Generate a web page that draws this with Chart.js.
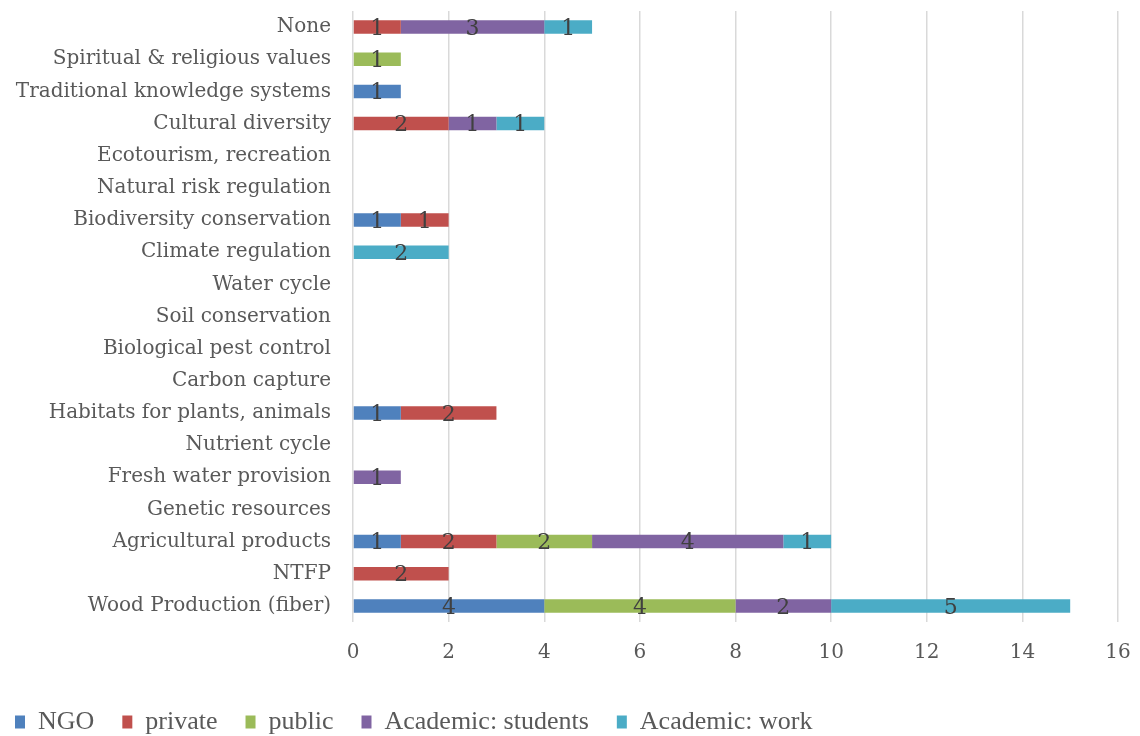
<!DOCTYPE html>
<html>
<head>
<meta charset="utf-8">
<script src="https://cdn.jsdelivr.net/npm/chart.js@4.4.1/dist/chart.umd.min.js"></script>
<style>
  html, body { margin: 0; padding: 0; background: #ffffff; }
  #wrap { width: 1140px; height: 736px; position: relative; }
</style>
</head>
<body>
<div id="wrap"><canvas id="c" width="1140" height="736"></canvas></div>
<script>
// Ecosystem services mentioned, by respondent group
const categories = [
  'None',
  'Spiritual & religious values',
  'Traditional knowledge systems',
  'Cultural diversity',
  'Ecotourism, recreation',
  'Natural risk regulation',
  'Biodiversity conservation',
  'Climate regulation',
  'Water cycle',
  'Soil conservation',
  'Biological pest control',
  'Carbon capture',
  'Habitats for plants, animals',
  'Nutrient cycle',
  'Fresh water provision',
  'Genetic resources',
  'Agricultural products',
  'NTFP',
  'Wood Production (fiber)'
];

const ngo      = [null, null, 1, null, null, null, 1, null, null, null, null, null, 1, null, null, null, 1, null, 4];
const privateS = [1, null, null, 2, null, null, 1, null, null, null, null, null, 2, null, null, null, 2, 2, null];
const publicS  = [null, 1, null, null, null, null, null, null, null, null, null, null, null, null, null, null, 2, null, 4];
const students = [3, null, null, 1, null, null, null, null, null, null, null, null, null, null, 1, null, 4, null, 2];
const work     = [1, null, null, 1, null, null, null, 2, null, null, null, null, null, null, null, null, 1, null, 5];

const xTicks = [0, 2, 4, 6, 8, 10, 12, 14, 16];

const seriesNames = ['NGO', 'private', 'public', 'Academic: students', 'Academic: work'];
const seriesColors = ['#4F81BD', '#C0504D', '#9BBB59', '#8064A2', '#4BACC6'];
const seriesData = [ngo, privateS, publicS, students, work];

const serifAxis = "'DejaVu Serif', 'Liberation Serif', serif";
const serifLegend = "'Liberation Serif', 'DejaVu Serif', serif";

// Writes each segment's value in the middle of the segment
const segmentLabels = {
  id: 'segmentLabels',
  afterDatasetsDraw(chart) {
    const ctx = chart.ctx;
    ctx.save();
    ctx.fillStyle = '#404040';
    ctx.font = "22px " + serifAxis;
    ctx.textAlign = 'center';
    ctx.textBaseline = 'middle';
    chart.data.datasets.forEach((ds, di) => {
      const meta = chart.getDatasetMeta(di);
      meta.data.forEach((bar, i) => {
        const v = ds.data[i];
        if (v === null || v === undefined) return;
        const cx = (bar.x + bar.base) / 2;
        ctx.fillText(String(v), cx, bar.y + 2);
      });
    });
    ctx.restore();
  }
};

// Axis boxes keep no extra margin for overhanging tick labels
function noScalePadding(scale) {
  scale.paddingTop = 0;
  scale.paddingBottom = 0;
  scale.paddingLeft = 0;
  scale.paddingRight = 0;
}

new Chart(document.getElementById('c'), {
  type: 'bar',
  data: {
    labels: categories,
    datasets: seriesNames.map((name, k) => ({
      label: name,
      data: seriesData[k],
      backgroundColor: seriesColors[k],
      borderWidth: 0,
      categoryPercentage: 1.0,
      barPercentage: 0.42
    }))
  },
  options: {
    indexAxis: 'y',
    responsive: false,
    animation: false,
    layout: { padding: { left: -13, right: 22, top: 11, bottom: -9 } },
    scales: {
      x: {
        stacked: true,
        min: 0,
        max: 16,
        afterBuildTicks(scale) { scale.ticks = xTicks.map(v => ({ value: v })); },
        grid: { color: '#D9D9D9', lineWidth: 1.5, drawTicks: false },
        border: { display: false },
        ticks: {
          color: '#595959',
          font: { family: serifAxis, size: 20 },
          padding: 19
        },
        afterFit(scale) { scale.height = 59; noScalePadding(scale); }
      },
      y: {
        stacked: true,
        grid: { display: false, drawTicks: false },
        border: { display: false },
        ticks: {
          color: '#595959',
          font: { family: serifAxis, size: 20 },
          padding: 22,
          autoSkip: false
        },
        afterFit(scale) { scale.width = 366; noScalePadding(scale); }
      }
    },
    plugins: {
      legend: {
        position: 'bottom',
        align: 'start',
        labels: {
          color: '#595959',
          font: { family: serifLegend, size: 26 },
          boxWidth: 10,
          boxHeight: 13,
          padding: 28
        }
      },
      tooltip: { enabled: false }
    }
  },
  plugins: [segmentLabels]
});
</script>
</body>
</html>
